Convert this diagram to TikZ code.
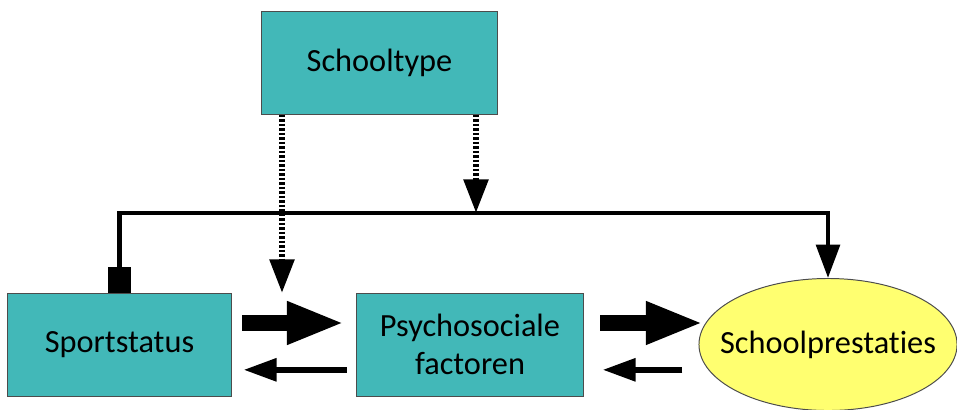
\documentclass[tikz,border=0pt]{standalone}
\usepackage{fontspec}
\setmainfont[Ligatures={NoCommon}]{Carlito}
\usepackage{tikz}
\usetikzlibrary{arrows.meta}
\usetikzlibrary{positioning}
\usetikzlibrary{shapes.geometric}
\definecolor{tealbox}{RGB}{66,184,184}
\definecolor{yellowell}{RGB}{255,255,112}
\tikzset{
	box/.style={draw=black!70,line width=0.7pt,fill=tealbox,inner sep=0pt,align=center},
	bigarrow/.style={line width=12pt,-{Triangle[length=41pt,width=28pt]}},
	smallarrow/.style={line width=4.3pt,-{Triangle[length=23.5pt,width=15.6pt]}},
	link/.style={line width=3.4pt,line join=miter,{Square[length=17.8pt,width=17pt]}-{Triangle[length=23.7pt,width=16.6pt]}},
	dotarrow/.style={line width=4.3pt,dash pattern=on 2pt off 1.2pt,-{Triangle[length=24pt,width=17pt]}}
}
\begin{document}
\begin{tikzpicture}[x=0.025cm,y=-0.025cm,font=\fontsize{23}{25}\selectfont]
	\useasboundingbox (0,0) rectangle (957,409);
	\node[box,minimum width=5.875cm,minimum height=2.55cm] (schooltype) at (379.5,63) {Schooltype};
	\node[box,minimum width=5.575cm,minimum height=2.575cm] (sport) at (119.5,344.5) {Sportstatus};
	\node[box,minimum width=5.65cm,minimum height=2.575cm] (psycho) at (470,344.5) {Psychosociale\\[2pt]factoren};
	\node[ellipse,draw=black!70,line width=0.7pt,fill=yellowell,inner sep=0pt,minimum width=6.45cm,minimum height=3.3cm] (prestatie) at (828,344.5) {\makebox[0pt]{Schoolprestaties}};
	\coordinate (barL) at (119.5,213);
	\coordinate (barR) at (828,213);
	\coordinate (barM) at (476,213);
	\coordinate (dropL) at (282,293);
	\draw[link] (sport.north) -- (barL) -- (barR) -- (prestatie.north);
	\draw[dotarrow] (schooltype.south -| dropL) -- (dropL);
	\draw[dotarrow] (schooltype.south -| barM) -- (barM);
	\draw[bigarrow] ([shift={(7.8pt,15.3pt)}]sport.east) -- ([shift={(-8.5pt,15.3pt)}]psycho.west);
	\draw[smallarrow] ([shift={(-7pt,-18pt)}]psycho.west) -- ([shift={(8.5pt,-18pt)}]sport.east);
	\draw[bigarrow] ([shift={(12pt,15.3pt)}]psycho.east) -- ([shift={(3.5pt,15.3pt)}]prestatie.west);
	\draw[smallarrow] ([shift={(-11.4pt,-18pt)}]prestatie.west) -- ([shift={(13.5pt,-18pt)}]psycho.east);
\end{tikzpicture}
\end{document}
